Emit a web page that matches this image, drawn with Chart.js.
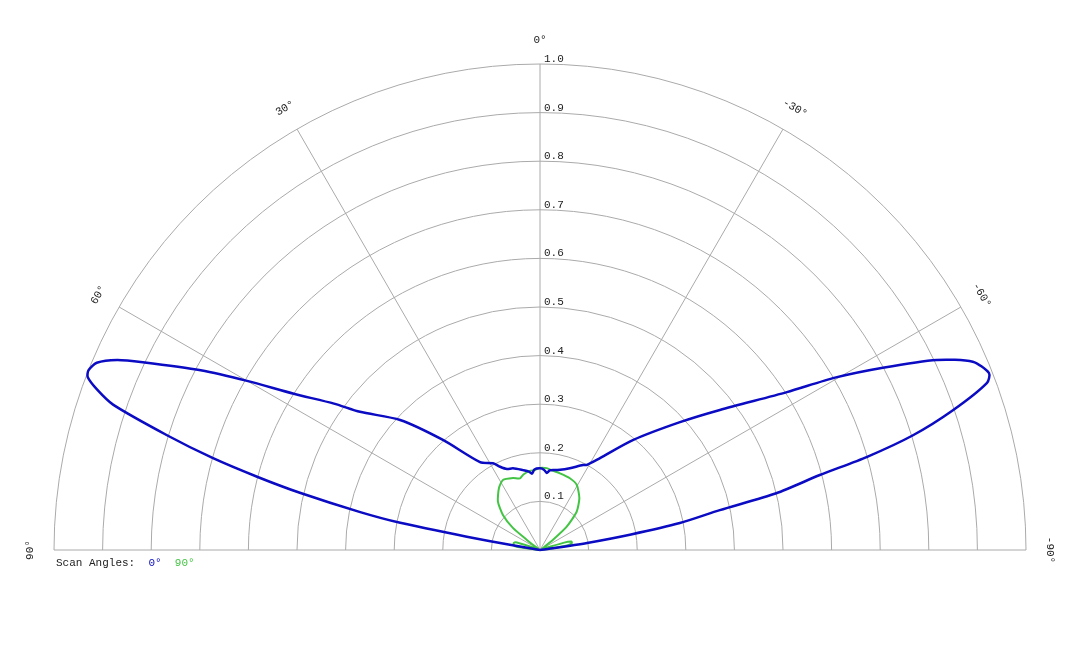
<!DOCTYPE html>
<html>
<head>
<meta charset="utf-8">
<script src="https://cdn.jsdelivr.net/npm/chart.js@4"></script>
<style>
  body { margin: 0; background: #fff; }
</style>
</head>
<body>
<canvas id="graph" width="1080" height="648"></canvas>
<script>
// angles in degrees, positive = left of the 0° axis
var blueAngles = [90, 81, 80.3, 79.7, 79, 78.1, 76.6, 75.5, 74.3, 72.9, 71.2, 70.1, 69.1, 68.3, 67.1, 65.8, 64.7, 62.1, 60, 57.6, 54.6, 52.5, 47.1, 41.4, 34.3, 28.4, 25.6, 22.2, 18.3, 12, 8, 6, 4, 0, -3, -5, -7, -9.4, -14, -20, -26.8, -28.8, -33, -40.2, -47.6, -52.1, -57.4, -59.7, -62, -64.4, -66.5, -68.5, -69.5, -71.3, -72.9, -74.1, -75, -76.5, -77.5, -79.1, -80.3, -81.5, -82.5, -84, -90];
var blueValues = [0, 0, 0.06, 0.153, 0.293, 0.378, 0.508, 0.6, 0.7, 0.803, 0.928, 0.969, 0.996, 1.0, 0.99, 0.954, 0.904, 0.79, 0.696, 0.6, 0.52, 0.467, 0.393, 0.302, 0.219, 0.203, 0.19, 0.18, 0.177, 0.168, 0.163, 0.158, 0.166, 0.168, 0.165, 0.159, 0.165, 0.167, 0.17, 0.179, 0.196, 0.2, 0.225, 0.296, 0.39, 0.469, 0.603, 0.703, 0.799, 0.905, 0.971, 0.993, 0.982, 0.897, 0.803, 0.7, 0.596, 0.5, 0.379, 0.293, 0.19, 0.098, 0.03, 0, 0];

var greenAngles = [90, 84, 82, 79, 75, 72, 70, 66, 56, 53.5, 52.4, 50.8, 46.6, 41, 33.5, 27.9, 20.5, 15.6, 12.4, 7.2, 3.6, 0, -4.7, -8.3, -14.6, -22.6, -29.4, -37.2, -43.8, -48.9, -52, -54, -60, -70, -73, -75, -78, -80, -83, -86, -90];
var greenValues = [0, 0.01, 0.05, 0.055, 0.056, 0.05, 0.02, 0.005, 0.005, 0.02, 0.034, 0.072, 0.105, 0.132, 0.153, 0.163, 0.158, 0.153, 0.159, 0.164, 0.165, 0.169, 0.169, 0.166, 0.163, 0.16, 0.154, 0.134, 0.109, 0.073, 0.034, 0.012, 0.005, 0.01, 0.05, 0.067, 0.067, 0.06, 0.02, 0, 0];

var ringTicks = [0.1, 0.2, 0.3, 0.4, 0.5, 0.6, 0.7, 0.8, 0.9, 1.0];
var spokeAngles = [90, 60, 30, 0, -30, -60, -90];
var seriesNames = ['0°', '90°'];
var colors = ['#0b0bc4', '#44c444'];

var FONT = '11px "Liberation Mono", "DejaVu Sans Mono", monospace';

function toPoints(angles, values) {
    var pts = [];
    for (let i = 0; i < angles.length; i++) {
        var a = angles[i] * Math.PI / 180;
        pts.push({ x: -values[i] * Math.sin(a), y: values[i] * Math.cos(a) });
    }
    return pts;
}

// semicircle grid, spokes and labels
var polarGrid = {
    id: 'polarGrid',
    beforeDatasetsDraw(chart) {
        var ctx = chart.ctx;
        var xs = chart.scales.x, ys = chart.scales.y;
        var cx = xs.getPixelForValue(0), cy = ys.getPixelForValue(0);
        var unit = xs.getPixelForValue(1) - cx;
        ctx.save();
        ctx.strokeStyle = '#aaaaaa';
        ctx.lineWidth = 1;
        ringTicks.forEach(r => {
            ctx.beginPath();
            ctx.arc(cx, cy, r * unit, Math.PI, 2 * Math.PI);
            ctx.stroke();
        });
        spokeAngles.forEach(d => {
            var a = d * Math.PI / 180;
            ctx.beginPath();
            ctx.moveTo(cx, cy);
            ctx.lineTo(cx - unit * Math.sin(a), cy - unit * Math.cos(a));
            ctx.stroke();
        });
        ctx.restore();
    },
    afterDraw(chart) {
        var ctx = chart.ctx;
        var xs = chart.scales.x, ys = chart.scales.y;
        var cx = xs.getPixelForValue(0), cy = ys.getPixelForValue(0);
        var unit = xs.getPixelForValue(1) - cx;
        ctx.save();
        ctx.font = FONT;
        ctx.fillStyle = '#222';
        ctx.textAlign = 'left';
        ctx.textBaseline = 'alphabetic';
        ringTicks.forEach(r => {
            ctx.fillText(r.toFixed(1), cx + 4, cy - r * unit - 2);
        });
        ctx.textAlign = 'center';
        ctx.textBaseline = 'middle';
        spokeAngles.forEach(d => {
            var a = d * Math.PI / 180;
            var lr = unit + 24;
            ctx.save();
            ctx.translate(cx - lr * Math.sin(a), cy - lr * Math.cos(a));
            ctx.rotate(-a);
            ctx.fillText(d + '°', 0, 0);
            ctx.restore();
        });
        // legend
        ctx.textAlign = 'left';
        var lx = chart.chartArea.left + 2, ly = cy + 13;
        ctx.fillText('Scan Angles:', lx, ly);
        var x = lx + ctx.measureText('Scan Angles:  ').width;
        chart.data.datasets.forEach(ds => {
            ctx.fillStyle = ds.borderColor;
            ctx.fillText(ds.label, x, ly);
            x += ctx.measureText(ds.label + '  ').width;
        });
        ctx.restore();
    }
};

new Chart(document.getElementById('graph'), {
    type: 'scatter',
    data: {
        datasets: [
            {
                label: seriesNames[0],
                data: toPoints(blueAngles, blueValues),
                borderColor: colors[0],
                borderWidth: 2.5,
                showLine: true,
                pointRadius: 0,
                tension: 0.25,
                clip: false
            },
            {
                label: seriesNames[1],
                data: toPoints(greenAngles, greenValues),
                borderColor: colors[1],
                borderWidth: 2,
                showLine: true,
                pointRadius: 0,
                tension: 0.2,
                clip: false
            }
        ]
    },
    options: {
        responsive: false,
        animation: false,
        layout: { padding: { left: 54, right: 54, top: 64, bottom: 98 } },
        scales: {
            x: { type: 'linear', min: -1, max: 1, display: false },
            y: { type: 'linear', min: 0, max: 1, display: false }
        },
        plugins: {
            legend: { display: false },
            tooltip: { enabled: false }
        }
    },
    plugins: [polarGrid]
});
</script>
</body>
</html>
